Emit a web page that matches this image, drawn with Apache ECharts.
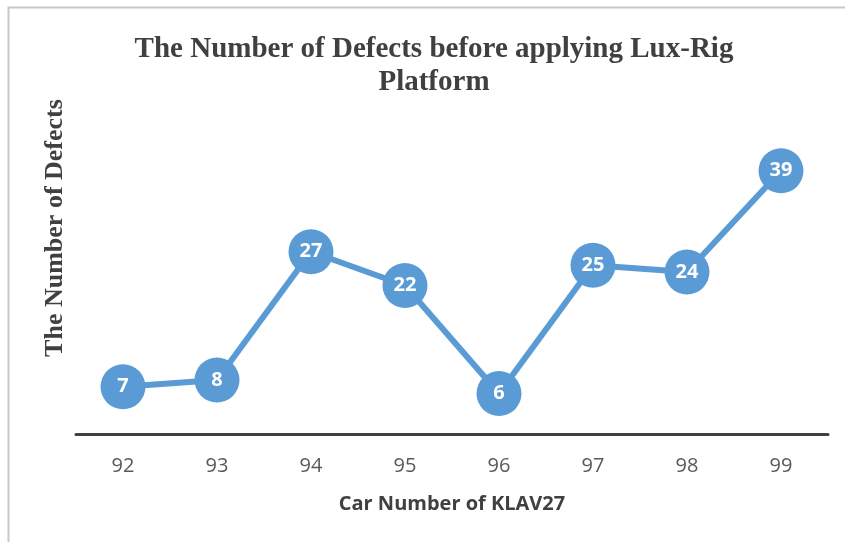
<!DOCTYPE html>
<html><head><meta charset="utf-8">
<script src="https://cdn.jsdelivr.net/npm/echarts@6/dist/echarts.min.js"></script>
<style>html,body{margin:0;padding:0;background:#fff}#c{width:845px;height:542px}</style>
</head><body><div id="c"></div>
<script>
const categories = ['92','93','94','95','96','97','98','99'];
const defects = [7, 8, 27, 22, 6, 25, 24, 39];
const titleText = 'The Number of Defects before applying Lux-Rig\nPlatform';
const xName = 'Car Number of KLAV27';
const yName = 'The Number of Defects';

const chart = echarts.init(document.getElementById('c'), null, {renderer:'canvas'});
chart.setOption({
  animation:false,
  backgroundColor:'#fff',
  graphic:[{type:'rect', shape:{x:8.5,y:7.5,width:900,height:600}, style:{fill:'none', stroke:'#c8c8c8', lineWidth:2}, silent:true}],
  title:{text:titleText, left:429, textAlign:'center', top:28,
    textStyle:{fontFamily:'Liberation Serif', fontWeight:'bold', fontSize:29, lineHeight:33, color:'#404040'}},
  grid:{left:76, right:17, top:164, bottom:108},
  xAxis:{type:'category', data:categories, boundaryGap:true,
    name:xName, nameLocation:'middle', nameGap:60,
    nameTextStyle:{fontFamily:'Open Sans', fontWeight:'bold', fontSize:20, color:'#404040'},
    axisLine:{lineStyle:{color:'#404040', width:3}},
    axisTick:{show:false},
    axisLabel:{fontFamily:'Open Sans', fontSize:20, color:'#595959', margin:22}},
  yAxis:{type:'value', min:0, max:40, interval:10,
    name:yName, nameLocation:'middle', nameGap:8, nameRotate:90,
    nameTextStyle:{fontFamily:'Liberation Serif', fontWeight:'bold', fontSize:26, color:'#404040', padding:[0,0,0,142]},
    axisLine:{show:false}, axisTick:{show:false}, axisLabel:{show:false}, splitLine:{show:false}},
  series:[{type:'line', data:defects, symbol:'circle', symbolSize:45,
    lineStyle:{color:'#5b9bd5', width:6},
    itemStyle:{color:'#5b9bd5', borderColor:'#5b9bd5', borderWidth:0},
    label:{show:true, position:'inside', color:'#fff', fontFamily:'Open Sans', fontWeight:'bold', fontSize:20}}]
});
</script></body></html>
